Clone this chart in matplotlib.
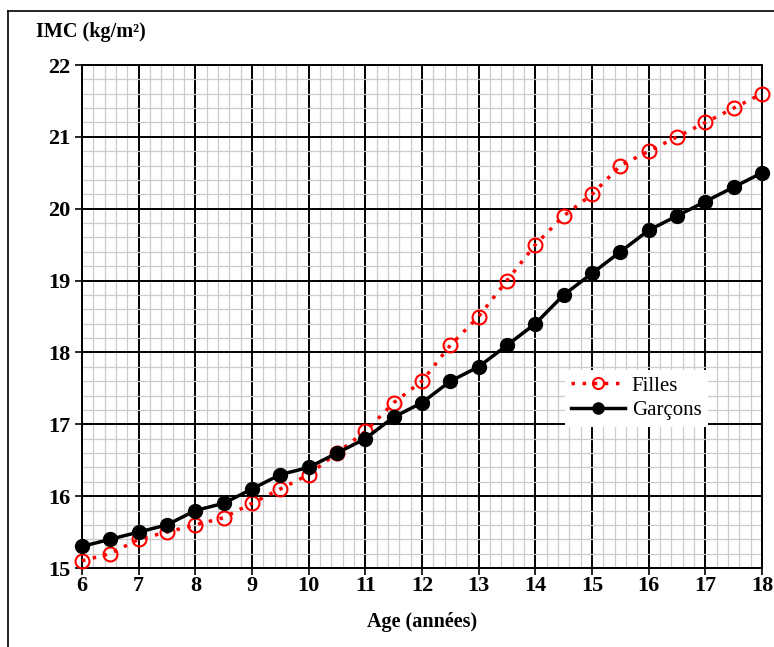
import numpy as np
import matplotlib.pyplot as plt
from matplotlib.ticker import MultipleLocator
from matplotlib.lines import Line2D

# donnees IMC
ages = [6, 6.5, 7, 7.5, 8, 8.5, 9, 9.5, 10, 10.5, 11, 11.5, 12, 12.5,
        13, 13.5, 14, 14.5, 15, 15.5, 16, 16.5, 17, 17.5, 18]
filles = [15.1, 15.2, 15.4, 15.5, 15.6, 15.7, 15.9, 16.1, 16.3, 16.6, 16.9, 17.3, 17.6, 18.1,
          18.5, 19.0, 19.5, 19.9, 20.2, 20.6, 20.8, 21.0, 21.2, 21.4, 21.6]
garcons = [15.3, 15.4, 15.5, 15.6, 15.8, 15.9, 16.1, 16.3, 16.4, 16.6, 16.8, 17.1, 17.3, 17.6,
           17.8, 18.1, 18.4, 18.8, 19.1, 19.4, 19.7, 19.9, 20.1, 20.3, 20.5]

plt.rcParams['font.family'] = 'Liberation Serif'

fig = plt.figure(figsize=(7.74, 6.47), dpi=100)
ax = fig.add_axes([82/774, 1-568/647, 680/774, 503/647])

ax.set_xlim(6, 18)
ax.set_ylim(15, 22)
ax.xaxis.set_major_locator(MultipleLocator(1))
ax.yaxis.set_major_locator(MultipleLocator(1))
ax.xaxis.set_minor_locator(MultipleLocator(0.2))
ax.yaxis.set_minor_locator(MultipleLocator(0.2))
ax.grid(which='minor', color='#cccccc', lw=0.9)
ax.grid(which='major', color='black', lw=1.4)
ax.set_axisbelow(True)
ax.tick_params(which='minor', length=0)
ax.tick_params(which='major', length=5, width=1.2, direction='out', labelsize=16)
ax.tick_params(axis='x', pad=1)
for lab in ax.get_xticklabels() + ax.get_yticklabels():
    lab.set_fontweight('bold')
for s in ax.spines.values():
    s.set_linewidth(1.4)

ax.plot(ages, filles, color='red', ls=(0, (1, 2.2)), lw=2.5, marker='o', ms=10,
        mfc='none', mec='red', mew=1.5, label='Filles', clip_on=False, zorder=4)
ax.plot(ages, garcons, color='black', lw=2.5, marker='o', ms=10,
        mfc='black', mec='black', label='Garçons', clip_on=False, zorder=5)

leg = ax.legend(loc='upper left', bbox_to_anchor=(0.695, 0.415), frameon=True, fontsize=15,
                fancybox=False, edgecolor='none', framealpha=1, handlelength=2.6,
                borderpad=0.3, handletextpad=0.3, labelspacing=0.25, markerscale=0.8)

fig.text(36/774, 1-32/647, 'IMC (kg/m²)', fontsize=14.5, fontweight='bold', va='center', ha='left')
fig.text(422/774, 1-622/647, 'Age (années)', fontsize=14.5, fontweight='bold', va='center', ha='center')

# cadre de la figure
fig.add_artist(Line2D([8/774, 8/774], [0, 1-11/647], color='black', lw=1.2))
fig.add_artist(Line2D([8/774, 1], [1-11/647, 1-11/647], color='black', lw=1.2))

fig.savefig('out.png', dpi=100)
